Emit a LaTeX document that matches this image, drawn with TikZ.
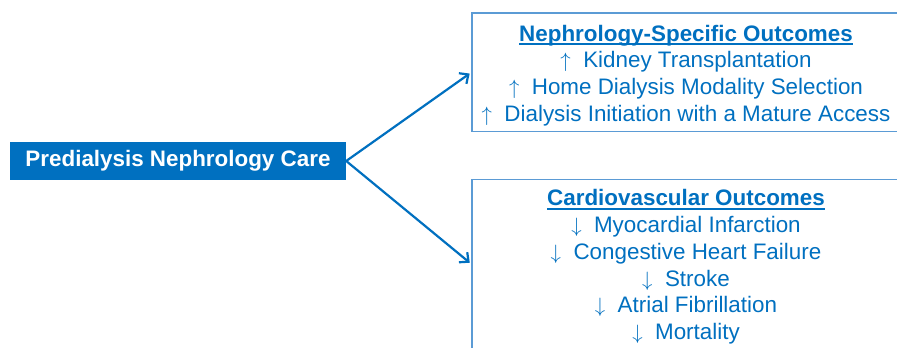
\documentclass[tikz,border=0pt]{standalone}
\usepackage{fontspec}
\setmainfont{Liberation Sans}
\usetikzlibrary{arrows.meta}
\definecolor{careblue}{HTML}{0070C0}
\definecolor{frameblue}{HTML}{5B9BD5}
\newcommand{\ulhead}[1]{\setbox0\hbox{#1}\rule{0pt}{22pt}\rlap{\rule[-3.8pt]{\wd0}{1.8pt}}\box0}
\newcommand{\up}{$\uparrow$~~}
\newcommand{\down}{$\downarrow$~~}

\begin{document}
\begin{tikzpicture}[x=1pt,y=-1pt]
        \tikzset{carebox/.style={fill=careblue,text=white,font=\bfseries\fontsize{22.4}{26.7}\selectfont,
                minimum width=336pt,minimum height=38pt,inner sep=0pt},
            outbox/.style={draw=frameblue,line width=1.4pt,text=careblue,align=center,
                font=\fontsize{22.4}{26.7}\selectfont,minimum width=428pt,inner sep=0pt},
            flow/.style={draw=careblue,line width=2.2pt,-{Straight Barb[length=7pt,width=13pt]},shorten >=2pt}}
        \useasboundingbox[fill=white] (0,0) rectangle (897,348);
        \clip (0,0) rectangle (897,348);
        \node[carebox] (care) at (178,161) {Predialysis Nephrology Care};
        \node[outbox,minimum height=118.7pt] (nephro) at (686,72.4)
            {\ulhead{\bfseries Nephrology-Specific Outcomes}\\
             \up Kidney Transplantation\\
             \up Home Dialysis Modality Selection\\
             \up Dialysis Initiation with a Mature Access};
        \node[outbox,minimum height=169pt] (cardio) at (686,264)
            {\ulhead{\bfseries Cardiovascular Outcomes}\\
             \down Myocardial Infarction\\
             \down Congestive Heart Failure\\
             \down Stroke\\
             \down Atrial Fibrillation\\
             \down Mortality};
        \draw[flow] (care.east) -- (nephro.west);
        \draw[flow] (care.east) -- (cardio.west);
    \end{tikzpicture}
\end{document}
